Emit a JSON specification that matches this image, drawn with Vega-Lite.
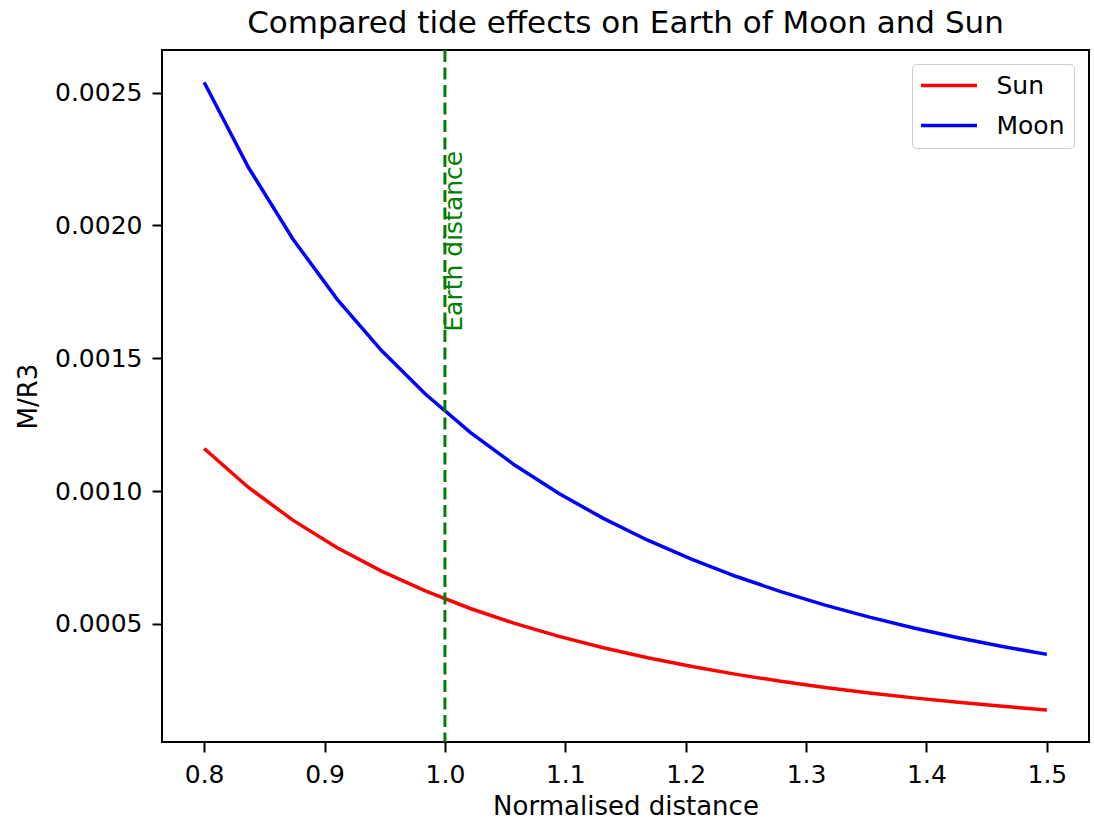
{
  "$schema": "https://vega.github.io/schema/vega-lite/v6.json",
  "width": 927,
  "height": 692,
  "autosize": {"type": "none"},
  "padding": {"left": 162, "top": 50, "right": 5, "bottom": 79},
  "background": "white",
  "title": {"text": "Compared tide effects on Earth of Moon and Sun"},
  "config": {
    "font": "DejaVu Sans",
    "view": {"stroke": "#000000", "strokeWidth": 2},
    "title": {"font": "DejaVu Sans", "fontSize": 31, "fontWeight": "normal", "color": "#000000", "anchor": "middle", "offset": 9},
    "axis": {
      "domain": false,
      "grid": false,
      "labelFont": "DejaVu Sans",
      "labelFontSize": 25,
      "labelColor": "#000000",
      "labelPadding": 10,
      "tickColor": "#000000",
      "tickWidth": 2,
      "tickSize": 10,
      "titleFont": "DejaVu Sans",
      "titleFontSize": 26,
      "titleFontWeight": "normal",
      "titleColor": "#000000"
    },
    "legend": {
      "labelFont": "DejaVu Sans",
      "labelFontSize": 25,
      "labelColor": "#000000"
    }
  },
  "datasets": {
    "tides": [
      {"body": "Sun", "distance": 0.8, "value": 0.00116016},
      {"body": "Sun", "distance": 0.836842, "value": 0.00101358},
      {"body": "Sun", "distance": 0.873684, "value": 0.00089068},
      {"body": "Sun", "distance": 0.910526, "value": 0.00078688},
      {"body": "Sun", "distance": 0.947368, "value": 0.00069860},
      {"body": "Sun", "distance": 0.984211, "value": 0.00062305},
      {"body": "Sun", "distance": 1.021053, "value": 0.00055800},
      {"body": "Sun", "distance": 1.057895, "value": 0.00050172},
      {"body": "Sun", "distance": 1.094737, "value": 0.00045275},
      {"body": "Sun", "distance": 1.131579, "value": 0.00040995},
      {"body": "Sun", "distance": 1.168421, "value": 0.00037238},
      {"body": "Sun", "distance": 1.205263, "value": 0.00033927},
      {"body": "Sun", "distance": 1.242105, "value": 0.00030996},
      {"body": "Sun", "distance": 1.278947, "value": 0.00028394},
      {"body": "Sun", "distance": 1.315789, "value": 0.00026075},
      {"body": "Sun", "distance": 1.352632, "value": 0.00024002},
      {"body": "Sun", "distance": 1.389474, "value": 0.00022143},
      {"body": "Sun", "distance": 1.426316, "value": 0.00020471},
      {"body": "Sun", "distance": 1.463158, "value": 0.00018963},
      {"body": "Sun", "distance": 1.5, "value": 0.00017600},
      {"body": "Moon", "distance": 0.8, "value": 0.00253906},
      {"body": "Moon", "distance": 0.836842, "value": 0.00221827},
      {"body": "Moon", "distance": 0.873684, "value": 0.00194930},
      {"body": "Moon", "distance": 0.910526, "value": 0.00172212},
      {"body": "Moon", "distance": 0.947368, "value": 0.00152892},
      {"body": "Moon", "distance": 0.984211, "value": 0.00136357},
      {"body": "Moon", "distance": 1.021053, "value": 0.00122121},
      {"body": "Moon", "distance": 1.057895, "value": 0.00109804},
      {"body": "Moon", "distance": 1.094737, "value": 0.00099087},
      {"body": "Moon", "distance": 1.131579, "value": 0.00089720},
      {"body": "Moon", "distance": 1.168421, "value": 0.00081497},
      {"body": "Moon", "distance": 1.205263, "value": 0.00074251},
      {"body": "Moon", "distance": 1.242105, "value": 0.00067836},
      {"body": "Moon", "distance": 1.278947, "value": 0.00062142},
      {"body": "Moon", "distance": 1.315789, "value": 0.00057067},
      {"body": "Moon", "distance": 1.352632, "value": 0.00052530},
      {"body": "Moon", "distance": 1.389474, "value": 0.00048461},
      {"body": "Moon", "distance": 1.426316, "value": 0.00044802},
      {"body": "Moon", "distance": 1.463158, "value": 0.00041501},
      {"body": "Moon", "distance": 1.5, "value": 0.00038518}
    ],
    "marker": [
      {"distance": 1.0, "value": 0.0016, "label": "Earth distance"}
    ]
  },
  "layer": [
    {
      "data": {"name": "tides"},
      "mark": {"type": "line", "strokeWidth": 3.5},
      "encoding": {
        "x": {
          "field": "distance",
          "type": "quantitative",
          "scale": {"domain": [0.765, 1.535], "nice": false, "zero": false},
          "axis": {"title": "Normalised distance", "values": [0.8, 0.9, 1.0, 1.1, 1.2, 1.3, 1.4, 1.5], "format": ".1f", "titlePadding": 6}
        },
        "y": {
          "field": "value",
          "type": "quantitative",
          "scale": {"domain": [0.0000553, 0.0026607], "nice": false, "zero": false},
          "axis": {"title": "M/R3", "values": [0.0005, 0.001, 0.0015, 0.002, 0.0025], "format": ".4f", "titlePadding": 13}
        },
        "color": {
          "field": "body",
          "type": "nominal",
          "scale": {"domain": ["Sun", "Moon"], "range": ["#ff0000", "#0000ff"]},
          "legend": {
            "title": null,
            "orient": "none",
            "legendX": 750,
            "legendY": 14,
            "symbolType": "M-4,0H4",
            "symbolSize": 196,
            "symbolStrokeWidth": 3.5,
            "symbolOffset": 15.5,
            "labelOffset": 35,
            "rowPadding": 14,
            "padding": 9,
            "fillColor": "#ffffff",
            "strokeColor": "#cccccc",
            "cornerRadius": 4
          }
        }
      }
    },
    {
      "data": {"name": "marker"},
      "mark": {"type": "rule", "color": "#008000", "strokeWidth": 3, "strokeDash": [12, 5.5]},
      "encoding": {
        "x": {"field": "distance", "type": "quantitative"}
      }
    },
    {
      "data": {"name": "marker"},
      "mark": {"type": "text", "angle": 270, "align": "left", "baseline": "alphabetic", "dy": 17, "color": "#008000", "fontSize": 25, "font": "DejaVu Sans"},
      "encoding": {
        "x": {"field": "distance", "type": "quantitative"},
        "y": {"field": "value", "type": "quantitative"},
        "text": {"field": "label"}
      }
    }
  ]
}
